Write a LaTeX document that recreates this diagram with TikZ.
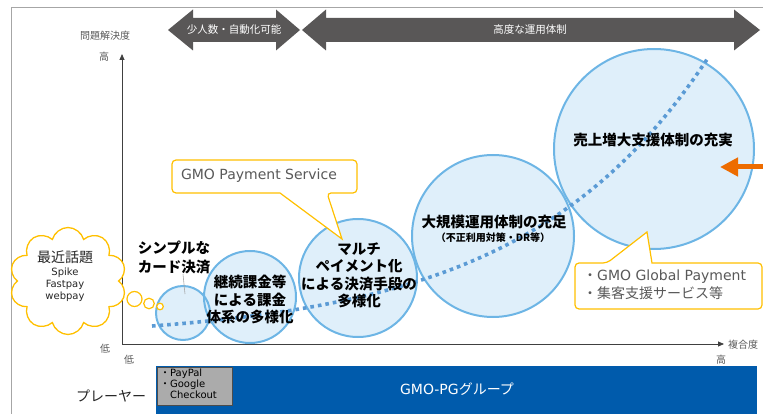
\documentclass[tikz,border=0pt]{standalone}
\usepackage{fontspec}
\setmainfont{DejaVu Sans}
\newfontfamily\jp{Noto Sans CJK JP}
\usetikzlibrary{arrows.meta,shapes.symbols}

\definecolor{framegray}{HTML}{A6A6A6}
\definecolor{bandgray}{HTML}{595757}
\definecolor{bubblefill}{HTML}{DFEFFA}
\definecolor{bubbleline}{HTML}{6DB5E5}
\definecolor{trendblue}{HTML}{5B9BD5}
\definecolor{calloutyellow}{HTML}{FFC000}
\definecolor{textgray}{HTML}{595959}
\definecolor{pgblue}{HTML}{005BAC}
\definecolor{arroworange}{HTML}{ED6C00}

\begin{document}
\begin{tikzpicture}[x=1pt,y=-1pt,
	axislabel/.style={text=textgray,font=\jp\fontsize{10}{12}\selectfont,inner sep=0pt},
	bandtext/.style={text=white,font=\jp\fontsize{10.5}{12}\selectfont,inner sep=0pt},
	bubbletext/.style={align=center,font=\jp\bfseries\fontsize{14.5}{17.5}\selectfont,inner sep=0pt},
	callouttext/.style={text=textgray,inner sep=0pt},
	yellowline/.style={draw=calloutyellow,line width=1.2pt},
	axisline/.style={black!75,line width=0.8pt,-{Triangle[length=6pt,width=5pt]}},
]
\useasboundingbox (0,0) rectangle (763,414);

% frame
\draw[framegray,line width=1pt] (11,430) -- (11,8) -- (780,8);

% the two bands on top
\fill[bandgray] (168,30) -- (193,9.5) -- (193,18) -- (276,18) -- (276,9.5) -- (300,30)
	-- (276,50.5) -- (276,42) -- (193,42) -- (193,50.5) -- cycle;
\fill[bandgray] (302,30) -- (326,9.5) -- (326,18) -- (734,18) -- (734,9.5) -- (760,30)
	-- (734,50.5) -- (734,42) -- (326,42) -- (326,50.5) -- cycle;
\node[bandtext] (few) at (234,30) {少人数・自動化可能};
\node[bandtext] (ops) at (530,30) {高度な運用体制};

% axes
\coordinate (origin) at (122,344);
\coordinate (ytop) at (122,54);
\coordinate (xend) at (724,344);
\draw[axisline] (origin) -- (ytop);
\draw[axisline] (origin) -- (xend);
\node[axislabel] (ytitle) at (105,36) {問題解決度};
\node[axislabel] (yhigh) at (104,57) {高};
\node[axislabel] (ylow) at (105,349) {低};
\node[axislabel] (xlow) at (129,360) {低};
\node[axislabel] (xhigh) at (721,360) {高};
\node[axislabel,anchor=west] (xtitle) at (728,345) {複合度};

% the bubbles: fills first, then outlines
\def\bubbles{183/313/27, 250/297/46, 358/278/59, 493/236/81, 654/149/100}
\foreach \cx/\cy/\r [count=\k] in \bubbles{
	\coordinate (b\k) at (\cx,\cy);
	\fill[bubblefill] (b\k) circle (\r pt);
}
\foreach \cx/\cy/\r in \bubbles{
	\draw[bubbleline,line width=2pt] (\cx,\cy) circle (\r pt);
}

% trend
\draw[trendblue,line width=3.6pt,dash pattern=on 3.6pt off 4pt]
	plot[domain=152:708,samples=80] (\x,{340-14*exp(0.0054*(\x-152))});

% cloud
\node[cloud,cloud puffs=10,cloud ignores aspect,draw=calloutyellow,line width=1.3pt,fill=white,
	minimum width=117pt,minimum height=107pt,inner sep=0pt] (buzz) at (68,281) {};
\foreach \bx/\by/\br in {134.5/299/7.5, 149/303.5/5.3, 160/306.5/3.3}{
	\draw[yellowline,fill=white] (\bx,\by) circle (\br pt);
}
\node[inner sep=0pt,font=\jp\fontsize{14}{16}\selectfont,text=black!85] (buzztitle) at (65,257) {最近話題};
\node[inner sep=0pt,align=center,font=\fontsize{10}{12}\selectfont,text=black!85] (buzzlist) at (65,285) {Spike\\Fastpay\\webpay};

% callouts
\draw[yellowline,fill=white,rounded corners=4pt] (172,176) -- (172,160) -- (357,160) -- (357,193)
	-- (327,193) [sharp corners] -- (342,239) -- (280,193) [rounded corners=4pt] -- (172,193) -- cycle;
\node[callouttext,font=\fontsize{14}{16}\selectfont] (gps) at (259,176) {GMO Payment Service};

\draw[yellowline,fill=white,rounded corners=4pt] (575,286) -- (575,263) -- (607,263) [sharp corners]
	-- (647,232) -- (652,263) [rounded corners=4pt] -- (762,263) -- (762,309) -- (575,309) -- cycle;
\node[callouttext,anchor=west,align=left,font=\fontsize{14}{18}\selectfont] (ggp) at (583,285)
	{{\jp ・}GMO Global Payment\\{\jp ・集客支援サービス等}};

% orange arrow
\coordinate (pullstart) at (775,167);
\coordinate (pull) at (720,167);
\draw[arroworange,line width=5pt,-{Triangle[length=18pt,width=18pt]}] (pullstart) -- (pull);

% bubble texts
\node[bubbletext,font=\jp\bfseries\fontsize{14.5}{19}\selectfont] (simple) at (174,257.5) {シンプルな\\カード決済};
\coordinate (simpletip) at (185,294);
\draw[black!35,line width=0.6pt] ([xshift=9pt]simple.south) -- (simpletip);
\node[bubbletext] (recurring) at (250,299.5) {継続課金等\\による課金\\体系の多様化};
\node[bubbletext] (multi) at (359,275.5) {マルチ\\ペイメント化\\による決済手段の\\多様化};
\node[bubbletext] (scale) at (494,222) {大規模運用体制の充足};
\node[inner sep=0pt,font=\jp\bfseries\fontsize{10}{12}\selectfont] (scalenote) at (493,238) {（不正利用対策・DR等）};
\node[bubbletext] (growth) at (653,140) {売上増大支援体制の充実};

% players
\fill[pgblue] (156,366) rectangle (757,420);
\node[text=white,font=\fontsize{14}{16}\selectfont] (pg) at (457,389) {GMO-PG{\jp グループ}};
\draw[black!70,fill=black!33,line width=1pt] (157,367.5) rectangle (232,405);
\node[inner sep=0pt,align=left,font=\fontsize{10}{11}\selectfont] (others) at (188.5,384)
	{{\jp ・}PayPal\\{\jp ・}Google\\\hspace*{10pt}Checkout};
\node[font=\jp\fontsize{14}{16}\selectfont,text=black!85] (players) at (111,396) {プレーヤー};

\end{tikzpicture}
\end{document}
